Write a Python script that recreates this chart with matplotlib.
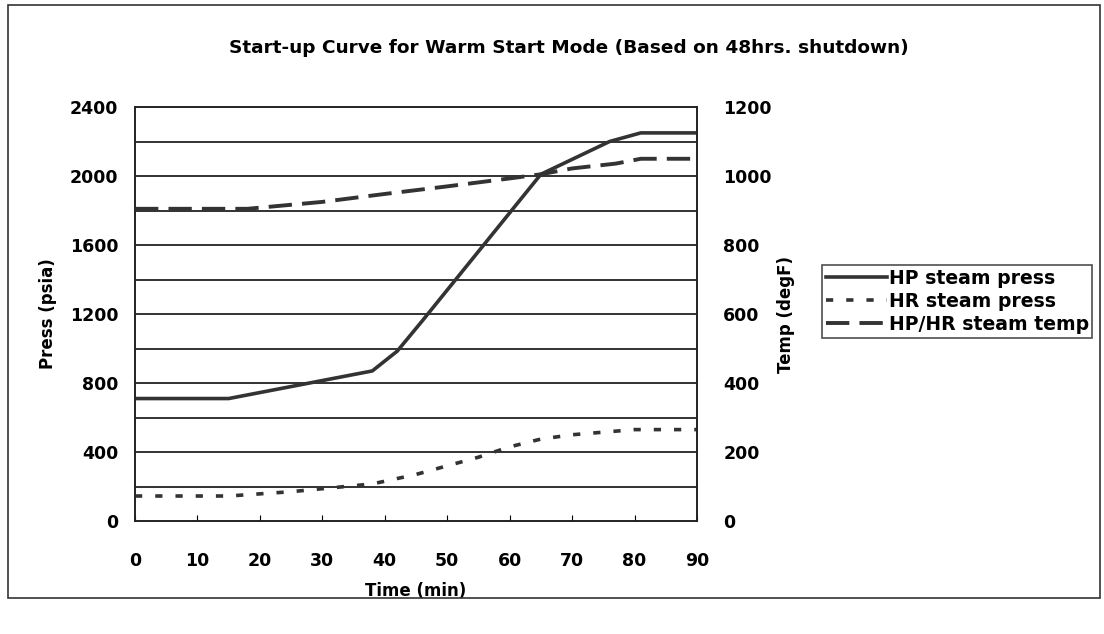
import matplotlib
matplotlib.use("Agg")
import matplotlib.pyplot as plt
from matplotlib.patches import Rectangle

# Data
hp_time = [0, 15, 38, 42, 46, 65, 76, 81, 90]
hp_press = [710, 710, 870, 985, 1160, 2010, 2200, 2250, 2250]

hr_time = [0, 15, 25, 38, 45, 55, 60, 65, 70, 80, 90]
hr_press = [145, 145, 170, 215, 270, 370, 430, 475, 500, 530, 530]

temp_time = [0, 18, 30, 40, 50, 60, 65, 70, 77, 81, 90]
temp_degf = [905, 905, 925, 948, 970, 993, 1005, 1022, 1036, 1050, 1050]

x_ticks = list(range(0, 91, 10))
press_ticks = list(range(0, 2401, 400))
temp_ticks = list(range(0, 1201, 200))
press_grid = list(range(200, 2400, 200))

plt.rcParams["font.family"] = ["DejaVu Sans"]
plt.rcParams["font.weight"] = "bold"

fig = plt.figure(figsize=(11.04, 6.34), dpi=100)
ax = fig.add_axes([0.1223, 0.1782, 0.509, 0.653])

line_col = "#333333"
for g in press_grid:
    ax.axhline(g, color="#222222", lw=1.3, zorder=1)

h1, = ax.plot(hp_time, hp_press, color=line_col, lw=2.6, label="HP steam press", zorder=3)
h2, = ax.plot(hr_time, hr_press, color=line_col, lw=2.6, linestyle=(0, (2.0, 3.6)),
              label="HR steam press", zorder=3)

ax2 = ax.twinx()
h3, = ax2.plot(temp_time, temp_degf, color=line_col, lw=2.8, linestyle=(0, (6.0, 2.6)),
               label="HP/HR steam temp", zorder=3)

ax.set_xlim(0, 90)
ax.set_ylim(0, 2400)
ax2.set_ylim(0, 1200)
ax.set_xticks(x_ticks)
ax.set_yticks(press_ticks)
ax2.set_yticks(temp_ticks)

ax.tick_params(axis="x", direction="in", length=4, labelsize=12.5, pad=22)
ax.tick_params(axis="y", length=0, labelsize=12.5, pad=12)
ax2.tick_params(axis="y", length=0, labelsize=12.5, pad=19)
for a in (ax, ax2):
    for s in a.spines.values():
        s.set_linewidth(1.2)
        s.set_color("#222222")

ax.set_xlabel("Time (min)", fontsize=12, fontweight="bold", labelpad=9)
ax.set_ylabel("Press (psia)", fontsize=12, fontweight="bold", labelpad=9)
ax2.set_ylabel("Temp (degF)", fontsize=12, fontweight="bold", labelpad=4)

fig.text(0.515, 0.925, "Start-up Curve for Warm Start Mode (Based on 48hrs. shutdown)",
         ha="center", va="center", fontsize=13.3, fontweight="bold")

leg = fig.legend(handles=[h1, h2, h3], loc="upper left", bbox_to_anchor=(0.745, 0.582),
                 frameon=True, fancybox=False, edgecolor="#222222", fontsize=13.6,
                 handlelength=3.2, handletextpad=0.1, borderpad=0.2, labelspacing=0.22,
                 borderaxespad=0)
leg.get_frame().set_linewidth(1.2)

fig.patches.append(Rectangle((8 / 1104, 1 - 598 / 634), 1092 / 1104, 593 / 634,
                             transform=fig.transFigure, fill=False,
                             edgecolor="#333333", lw=1.2))

fig.savefig("out.png", dpi=100)
plt.close()
